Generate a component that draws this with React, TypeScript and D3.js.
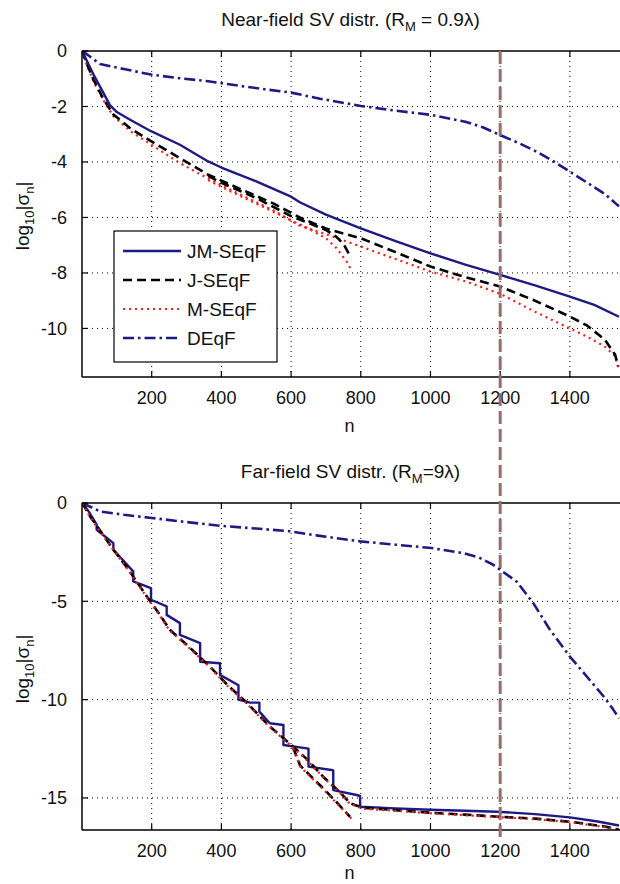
import React from "react";
import * as d3 from "d3";

type P = [number, number];

// ---------- data ----------
const xTicks = [200, 400, 600, 800, 1000, 1200, 1400];
const nearYTicks = [0, -2, -4, -6, -8, -10];
const farYTicks = [0, -5, -10, -15];
const markerN = 1200;
const seriesNames = ["JM-SEqF", "J-SEqF", "M-SEqF", "DEqF"];

// Near-field (R_M = 0.9λ)
const nearJM: P[] = [
  [1, 0], [10, -0.25], [33, -0.85], [61, -1.5], [80, -1.95], [100, -2.2], [138, -2.48], [198, -2.89],
  [281, -3.38], [362, -3.98], [400, -4.2], [500, -4.7], [600, -5.25], [625, -5.45],
  [700, -5.9], [800, -6.39], [900, -6.85], [1000, -7.29], [1100, -7.7], [1200, -8.07],
  [1300, -8.45], [1400, -8.85], [1470, -9.15], [1541, -9.58],
];
const nearJ: P[] = [
  [1, 0], [12, -0.4], [33, -1.03], [60, -1.7], [90, -2.29], [140, -2.8], [198, -3.25],
  [281, -3.86], [362, -4.46], [450, -4.95], [550, -5.5], [625, -6.0], [700, -6.4],
  [800, -6.75], [900, -7.25], [1000, -7.77], [1100, -8.15], [1200, -8.49], [1300, -9.0],
  [1400, -9.57], [1450, -9.9], [1500, -10.4], [1530, -10.95], [1538, -11.35],
];
const nearJShort: P[] = [
  [362, -4.5], [400, -4.75], [500, -5.3], [600, -5.95], [650, -6.2], [700, -6.45],
  [730, -6.7], [750, -6.95], [770, -7.4],
];
const nearM: P[] = [
  [1, 0], [12, -0.45], [33, -1.1], [60, -1.75], [90, -2.35], [140, -2.9], [198, -3.37],
  [281, -4.04], [362, -4.6], [450, -5.15], [550, -5.75], [625, -6.3], [700, -6.6],
  [800, -7.05], [900, -7.5], [1000, -7.95], [1100, -8.3], [1200, -8.75], [1300, -9.4],
  [1400, -10.0], [1450, -10.3], [1500, -10.65], [1530, -11.0], [1541, -11.5],
];
const nearMShort: P[] = [
  [362, -4.65], [400, -4.9], [500, -5.5], [600, -6.1], [650, -6.4], [700, -6.75],
  [730, -7.1], [760, -7.6], [775, -7.95],
];
const nearD: P[] = [
  [1, 0], [52, -0.47], [120, -0.65], [198, -0.85], [280, -0.98], [362, -1.09],
  [450, -1.25], [525, -1.38], [600, -1.5], [683, -1.72], [800, -1.98], [900, -2.15],
  [1000, -2.3], [1100, -2.55], [1150, -2.75], [1200, -3.03], [1250, -3.3], [1300, -3.6],
  [1350, -3.95], [1400, -4.35], [1450, -4.75], [1500, -5.15], [1541, -5.6],
];

// Far-field (R_M = 9λ)
const farJM: P[] = [
  [1, 0], [20, -0.45], [42, -1.1], [42, -1.36], [90, -2.04], [90, -2.38], [147, -3.48],
  [147, -3.99], [198, -4.33], [198, -4.92], [243, -5.26], [243, -5.69], [281, -6.11],
  [281, -6.71], [339, -7.13], [339, -8.07], [396, -8.15], [396, -8.74], [449, -9.27],
  [449, -10.0], [482, -10.15], [509, -10.15], [509, -10.61], [539, -11.2], [578, -11.29],
  [578, -12.31], [645, -12.48], [650, -12.5], [650, -13.41], [716, -13.58], [721, -13.6],
  [721, -14.6], [788, -14.85], [798, -14.9], [798, -15.45], [900, -15.53], [1000, -15.6],
  [1100, -15.65], [1190, -15.7], [1300, -15.82], [1400, -15.99], [1480, -16.2], [1541, -16.4],
];
const farJ: P[] = [
  [1, 0], [23, -0.68], [50, -1.35], [90, -2.38], [130, -3.3], [186, -4.75], [220, -5.6],
  [252, -6.45], [300, -7.2], [367, -8.32], [420, -9.3], [470, -10.1], [511, -10.86],
  [539, -11.37], [606, -12.39], [650, -13.1], [692, -13.92], [740, -14.7], [769, -15.27],
  [806, -15.5], [900, -15.62], [1000, -15.75], [1100, -15.85], [1200, -15.96],
  [1300, -16.05], [1400, -16.21], [1500, -16.45], [1541, -16.62],
];
const farJShort: P[] = [
  [606, -12.45], [626, -13.35], [660, -13.95], [700, -14.65], [735, -15.3], [769, -15.96],
];
const farM: P[] = [
  [1, 0], [23, -0.72], [50, -1.4], [90, -2.4], [130, -3.35], [186, -4.8], [220, -5.65],
  [252, -6.5], [300, -7.25], [367, -8.35], [420, -9.35], [470, -10.15], [511, -10.9],
  [539, -11.4], [606, -12.45], [650, -13.15], [692, -13.95], [740, -14.75], [769, -15.3],
  [806, -15.55], [900, -15.65], [1000, -15.78], [1100, -15.88], [1200, -15.98],
  [1300, -16.08], [1400, -16.23], [1500, -16.48], [1541, -16.65],
];
const farMShort: P[] = [
  [606, -12.5], [626, -13.4], [660, -14.0], [700, -14.7], [735, -15.35], [769, -15.95], [778, -16.2],
];
const farD: P[] = [
  [1, 0], [52, -0.43], [120, -0.6], [200, -0.76], [300, -0.97], [397, -1.16], [500, -1.3],
  [597, -1.44], [677, -1.66], [798, -1.95], [900, -2.12], [1003, -2.29], [1094, -2.55],
  [1140, -2.78], [1180, -3.14], [1200, -3.4], [1247, -3.99], [1295, -5.09], [1343, -6.45],
  [1400, -7.81], [1457, -9.0], [1500, -9.9], [1525, -10.52], [1541, -10.95],
];

// ---------- styles ----------
const NAVY = "#1e1a84";
const FONT = "'Liberation Sans', Arial, Helvetica, sans-serif";
const styles: Record<string, { stroke: string; dash?: string; width: number }> = {
  "JM-SEqF": { stroke: NAVY, width: 2.4 },
  "J-SEqF": { stroke: "#000000", dash: "9,5", width: 2.6 },
  "M-SEqF": { stroke: "#ff1a1a", dash: "2,4", width: 2.2 },
  "DEqF": { stroke: NAVY, dash: "11,4,2.5,4", width: 2.6 },
};

const X0 = 82;
const X1 = 619;
const xScale = d3.scaleLinear().domain([0, 1541]).range([X0, X1]);

type PanelProps = {
  id: string;
  top: number;
  bottom: number;
  yMin: number;
  yTicks: number[];
  title: React.ReactNode;
  series: { name: string; data: P[] }[];
  legend?: boolean;
  labelY: number;
  nLabelY: number;
};

function Panel({ id, top, bottom, yMin, yTicks, title, series, legend, labelY, nLabelY }: PanelProps) {
  const y = d3.scaleLinear().domain([yMin, 0]).range([bottom, top]);
  const line = d3
    .line<P>()
    .x((d) => xScale(d[0]))
    .y((d) => y(d[1]));
  const tick = 6;
  return (
    <g>
      <defs>
        <clipPath id={id}>
          <rect x={X0} y={top} width={X1 - X0 + 2} height={bottom - top} />
        </clipPath>
      </defs>
      {/* grid */}
      {xTicks.map((t) => (
        <line key={"gx" + t} x1={xScale(t)} x2={xScale(t)} y1={top} y2={bottom}
          stroke="#000" strokeWidth={1} strokeDasharray="1,4" />
      ))}
      {yTicks.filter((t) => t !== 0).map((t) => (
        <line key={"gy" + t} x1={X0} x2={X1} y1={y(t)} y2={y(t)}
          stroke="#000" strokeWidth={1} strokeDasharray="1,4" />
      ))}
      {/* curves */}
      <g clipPath={`url(#${id})`}>
        {series.map((s, i) => {
          const st = styles[s.name];
          return (
            <path key={i} d={line(s.data) || ""} fill="none" stroke={st.stroke}
              strokeWidth={st.width} strokeDasharray={st.dash} strokeLinejoin="round" />
          );
        })}
      </g>
      {/* axes box */}
      <line x1={X0} x2={X1 + 1} y1={top} y2={top} stroke="#000" strokeWidth={1.5} />
      <line x1={X0} x2={X1 + 1} y1={bottom} y2={bottom} stroke="#000" strokeWidth={1.5} />
      <line x1={X0} x2={X0} y1={top} y2={bottom} stroke="#000" strokeWidth={1.5} />
      {xTicks.map((t) => (
        <g key={"tx" + t}>
          <line x1={xScale(t)} x2={xScale(t)} y1={bottom} y2={bottom - tick} stroke="#000" strokeWidth={1.2} />
          <line x1={xScale(t)} x2={xScale(t)} y1={top} y2={top + tick} stroke="#000" strokeWidth={1.2} />
          <text x={xScale(t)} y={bottom + 27} textAnchor="middle" fontSize={18} fontFamily={FONT} fill="#111">
            {t}
          </text>
        </g>
      ))}
      {yTicks.map((t) => (
        <g key={"ty" + t}>
          <line x1={X0} x2={X0 + tick} y1={y(t)} y2={y(t)} stroke="#000" strokeWidth={1.2} />
          <text x={X0 - 15} y={y(t)} dy="0.36em" textAnchor="end" fontSize={18} fontFamily={FONT} fill="#111">
            {t === 0 ? "0" : "-" + Math.abs(t)}
          </text>
        </g>
      ))}
      {/* labels */}
      <text x={(X0 + X1) / 2} y={top - 25} textAnchor="middle" fontSize={19} fontFamily={FONT} fill="#111">
        {title}
      </text>
      <text x={X0 + (X1 - X0) / 2 - 1} y={nLabelY} textAnchor="middle" fontSize={18} fontFamily={FONT} fill="#111">
        n
      </text>
      <text transform={`translate(29,${labelY}) rotate(-90)`} textAnchor="middle" fontSize={19} fontFamily={FONT} fill="#111">
        log<tspan dy={5} fontSize={13}>10</tspan>
        <tspan dy={-5}>|σ</tspan>
        <tspan dy={5} fontSize={13}>n</tspan>
        <tspan dy={-5}>|</tspan>
      </text>
      {legend && (
        <g>
          <rect x={114} y={231} width={163} height={131} fill="#fff" stroke="#000" strokeWidth={1.2} />
          {seriesNames.map((nm, i) => {
            const st = styles[nm];
            const yy = 251 + i * 29;
            return (
              <g key={nm}>
                <line x1={123} x2={181} y1={yy} y2={yy} stroke={st.stroke} strokeWidth={st.width}
                  strokeDasharray={st.dash} />
                <text x={187} y={yy} dy="0.36em" fontSize={19} fontFamily={FONT} fill="#111">
                  {nm}
                </text>
              </g>
            );
          })}
        </g>
      )}
    </g>
  );
}

export default function App() {
  const nearTop = 51;
  const nearBottom = 377;
  const farTop = 503;
  const farBottom = 830;
  return (
    <svg width={620} height={884} style={{ position: "absolute", left: 0, top: 0, background: "#fff" }}>
      <rect width={620} height={884} fill="#fff" />
      <Panel
        id="clipNear"
        top={nearTop}
        bottom={nearBottom}
        yMin={-11.75}
        yTicks={nearYTicks}
        labelY={216}
        nLabelY={432}
        title={
          <>
            Near-field SV distr. (R<tspan dy={5} fontSize={13}>M</tspan>
            <tspan dy={-5}> = 0.9λ)</tspan>
          </>
        }
        series={[
          { name: "DEqF", data: nearD },
          { name: "M-SEqF", data: nearMShort },
          { name: "M-SEqF", data: nearM },
          { name: "J-SEqF", data: nearJShort },
          { name: "J-SEqF", data: nearJ },
          { name: "JM-SEqF", data: nearJM },
        ]}
        legend
      />
      <Panel
        id="clipFar"
        top={farTop}
        bottom={farBottom}
        yMin={-16.63}
        yTicks={farYTicks}
        labelY={669}
        nLabelY={879}
        title={
          <>
            Far-field SV distr. (R<tspan dy={5} fontSize={13}>M</tspan>
            <tspan dy={-5}>=9λ)</tspan>
          </>
        }
        series={[
          { name: "DEqF", data: farD },
          { name: "JM-SEqF", data: farJM },
          { name: "J-SEqF", data: farJShort },
          { name: "J-SEqF", data: farJ },
          { name: "M-SEqF", data: farMShort },
          { name: "M-SEqF", data: farM },
        ]}
      />
      <line x1={xScale(markerN)} x2={xScale(markerN)} y1={nearTop} y2={837}
        stroke="#9a6b67" strokeWidth={3} strokeDasharray="13,5" />
    </svg>
  );
}
